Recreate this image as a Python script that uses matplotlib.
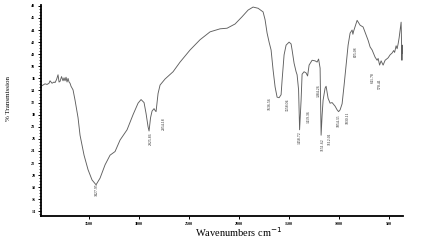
import matplotlib
matplotlib.use("Agg")
import matplotlib.pyplot as plt
import numpy as np
from matplotlib.ticker import MultipleLocator

# Spectrum (wavenumber cm-1, % transmission)
wavenumber = [3980, 3960, 3940, 3920, 3900, 3890, 3870, 3850, 3840, 3825, 3810, 3800,
              3790, 3775, 3760, 3750, 3740, 3730, 3720, 3710, 3700, 3690, 3680, 3660,
              3640, 3610, 3590, 3550, 3510, 3470, 3430, 3390, 3340, 3290, 3240, 3190,
              3120, 3060, 3010, 2980, 2950, 2930, 2910, 2900, 2885, 2870, 2850, 2840,
              2830, 2810, 2790, 2740, 2660, 2590, 2490, 2390, 2290, 2190, 2120, 2040,
              1970, 1910, 1860, 1810, 1760, 1740, 1720, 1700, 1680, 1660, 1640, 1620,
              1600, 1580, 1570, 1550, 1530, 1500, 1480, 1470, 1450, 1430, 1420, 1405,
              1395, 1380, 1370, 1350, 1330, 1315, 1300, 1270, 1240, 1220, 1205, 1190,
              1185, 1180, 1170, 1160, 1140, 1130, 1110, 1090, 1070, 1040, 1020, 1005,
              990, 970, 950, 930, 910, 890, 870, 862, 855, 820, 790, 760, 710, 690,
              670, 640, 620, 610, 595, 580, 560, 540, 510, 490, 470, 455, 445, 430,
              420, 410, 400, 390, 380, 372, 368, 365, 360]
transmission = [34.7, 34.9, 35.1, 35.0, 35.2, 35.6, 35.2, 35.4, 35.3, 35.8, 36.6, 35.4,
                35.5, 36.3, 35.6, 36.1, 35.6, 36.2, 35.4, 36.0, 35.4, 35.2, 34.7, 34.1,
                32.4, 29.5, 26.6, 23.3, 20.9, 19.2, 18.4, 19.5, 21.7, 23.3, 23.9, 25.8,
                27.5, 30.0, 31.9, 32.5, 32.0, 30.2, 28.0, 27.3, 29.5, 30.6, 31.0, 30.7,
                30.5, 33.5, 34.9, 35.9, 37.1, 38.7, 40.7, 42.4, 43.7, 44.2, 44.3, 45.0,
                46.2, 47.3, 47.8, 47.6, 47.0, 45.7, 43.5, 42.0, 40.7, 37.4, 34.6, 32.9,
                32.8, 33.3, 35.7, 39.9, 41.5, 42.0, 41.7, 40.7, 38.5, 37.1, 36.6, 34.1,
                27.5, 32.4, 36.7, 37.1, 36.9, 36.4, 38.2, 39.0, 38.9, 38.7, 39.2, 37.7,
                32.4, 26.6, 29.9, 32.4, 34.4, 34.7, 32.7, 31.9, 32.0, 31.4, 30.8, 30.5,
                30.8, 31.8, 34.9, 38.2, 41.5, 43.5, 44.0, 43.3, 43.8, 45.6, 44.8, 44.5,
                42.3, 41.2, 40.7, 39.5, 39.0, 39.3, 38.2, 38.9, 38.2, 39.0, 39.4, 39.9,
                40.2, 40.6, 40.3, 41.4, 40.9, 41.7, 42.7, 44.0, 45.3, 39.0, 41.5, 40.2,
                40.7]

# Peak labels
peak_text = ["3427.95", "2925.86", "2854.18", "1636.56", "1558.04", "1458.72", "1419.36",
             "1384.26", "1151.62", "1112.01", "1054.35", "1030.11", "825.08", "641.78", "570.41"]
# label placement (x in cm-1, top of label in %T)
label_x = [3420, 2885, 2750, 1690, 1510, 1390, 1300, 1200, 1160, 1090, 1000, 915, 835, 665, 590]
label_top = [18.7, 27.0, 29.5, 32.8, 32.6, 27.2, 30.7, 35.1, 26.1, 27.1, 30.0, 30.5, 41.3, 37.0, 36.0]

fig = plt.figure(figsize=(4.23, 2.41), dpi=100)
ax = fig.add_axes([0.097, 0.102, 0.856, 0.877])
ax.plot(wavenumber, transmission, color="#5f5f5f", lw=0.65)

ax.set_xlim(3980, 360)
ax.set_ylim(13.17, 48.13)

for sp in ["top", "right"]:
    ax.spines[sp].set_visible(False)
for sp in ["left", "bottom"]:
    ax.spines[sp].set_linewidth(1.3)

ax.yaxis.set_minor_locator(MultipleLocator(0.5))
ax.tick_params(axis="both", which="major", labelsize=3, length=2.5, width=0.7, pad=1.5)
ax.tick_params(axis="y", which="minor", length=1.5, width=0.5)
ax.set_xticks([3500, 3000, 2500, 2000, 1500, 1000, 500])
ax.set_yticks(np.arange(14, 49, 2))
for lab in ax.get_xticklabels() + ax.get_yticklabels():
    lab.set_fontfamily("Liberation Serif")
    lab.set_fontweight("bold")

for x, y, t in zip(label_x, label_top, peak_text):
    ax.text(x, y, t, rotation=90, fontsize=2.8, ha="center", va="top",
            family="Liberation Serif", color="#222222")

fig.text(0.565, 0.035, "Wavenumbers cm$^{-1}$", fontsize=7.5, family="Liberation Serif",
         ha="center", va="center")
fig.text(0.02, 0.59, "% Transmission", fontsize=5, family="Liberation Serif",
         rotation=90, ha="center", va="center")

fig.savefig("out.png", dpi=100)
